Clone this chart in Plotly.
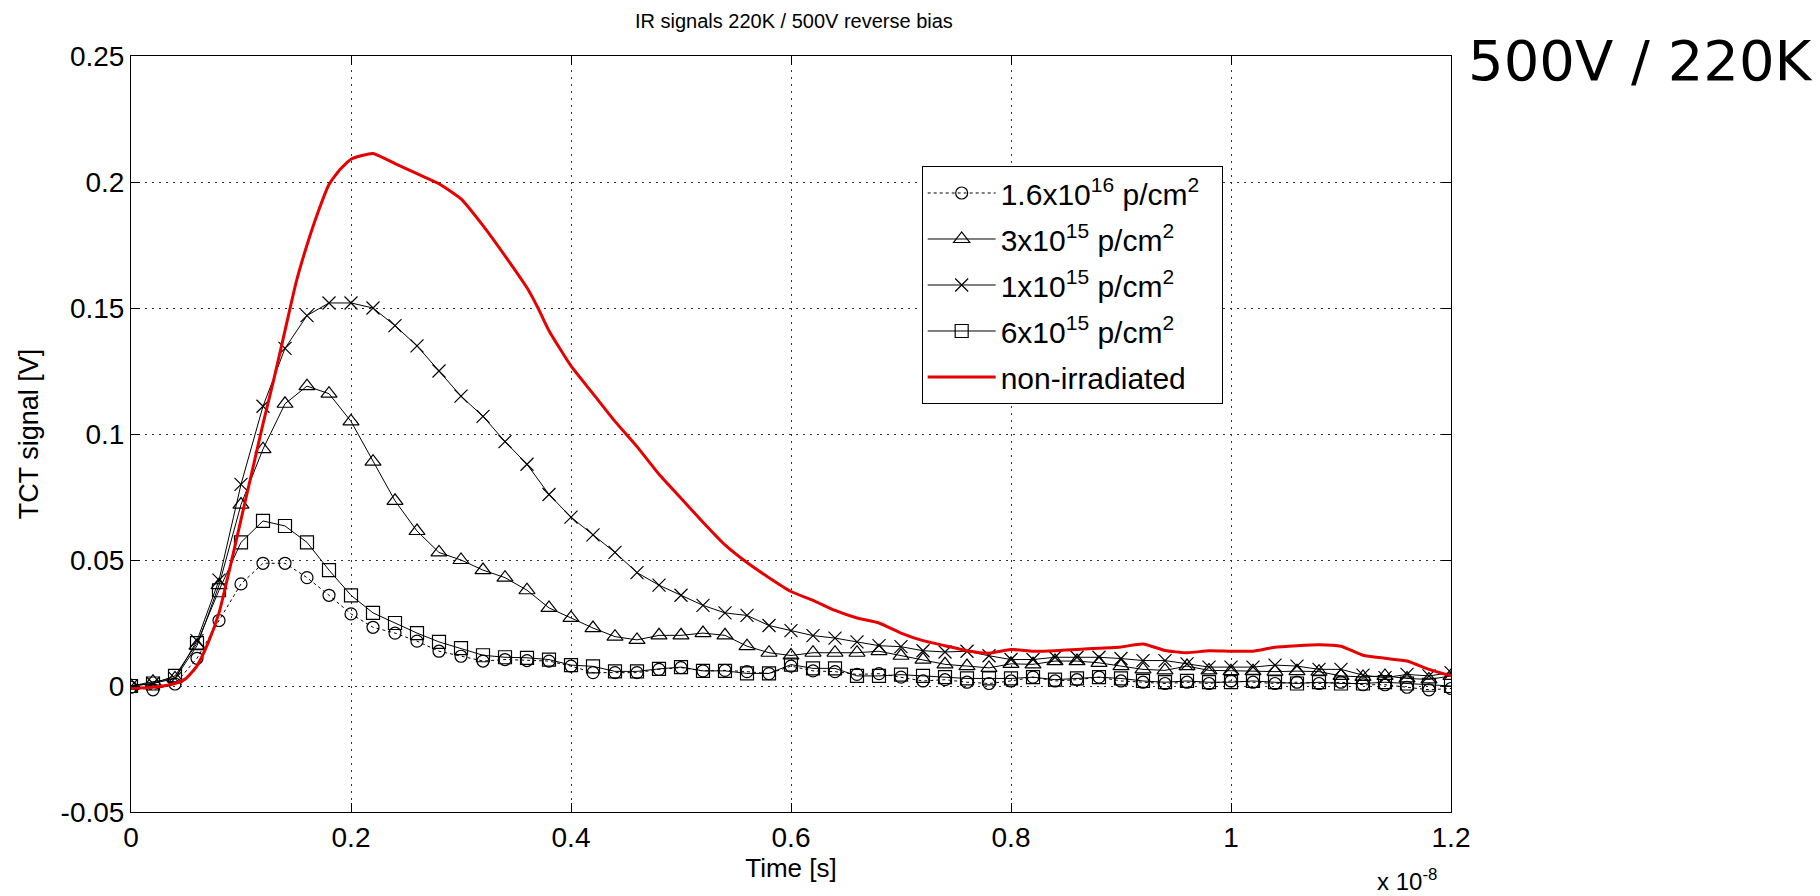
import plotly.graph_objects as go

# Sampling grid of the marked series, in units of 1e-8 s
TIME = [0.00, 0.02, 0.04, 0.06, 0.08, 0.10, 0.12, 0.14, 0.16, 0.18,
        0.20, 0.22, 0.24, 0.26, 0.28, 0.30, 0.32, 0.34, 0.36, 0.38,
        0.40, 0.42, 0.44, 0.46, 0.48, 0.50, 0.52, 0.54, 0.56, 0.58,
        0.60, 0.62, 0.64, 0.66, 0.68, 0.70, 0.72, 0.74, 0.76, 0.78,
        0.80, 0.82, 0.84, 0.86, 0.88, 0.90, 0.92, 0.94, 0.96, 0.98,
        1.00, 1.02, 1.04, 1.06, 1.08, 1.10, 1.12, 1.14, 1.16, 1.18,
        1.20]

# TCT signal [V] per fluence
SIG_16E16 = [-0.0005, -0.0015, 0.0008, 0.011, 0.026, 0.0405, 0.0487, 0.0487, 0.043, 0.036,
             0.0286, 0.0233, 0.021, 0.0178, 0.0138, 0.0118, 0.0099, 0.0105, 0.0101, 0.0099,
             0.0079, 0.0053, 0.0053, 0.0053, 0.0066, 0.0073, 0.006, 0.0062, 0.0057, 0.0049,
             0.0079, 0.006, 0.0057, 0.0046, 0.0049, 0.0035, 0.002, 0.0025, 0.0015, 0.001,
             0.002, 0.0035, 0.002, 0.0025, 0.0035, 0.002, 0.0015, 0.001, 0.0015, 0.001,
             0.002, 0.0015, 0.001, 0.0015, 0.001, 0.0015, 0.0005, 0.0005, -0.0005, -0.0015,
             -0.001]

SIG_3E15 = [0.0, 0.0017, 0.003, 0.016, 0.040, 0.072, 0.094, 0.112, 0.119, 0.116,
            0.105, 0.089, 0.0735, 0.0615, 0.053, 0.050, 0.046, 0.043, 0.038, 0.031,
            0.027, 0.023, 0.0196, 0.0183, 0.0201, 0.0201, 0.021, 0.0201, 0.0158, 0.0132,
            0.0121, 0.0132, 0.0132, 0.0132, 0.0138, 0.012, 0.0105, 0.0086, 0.0079, 0.0072,
            0.0088, 0.0086, 0.0099, 0.0099, 0.0092, 0.0079, 0.0066, 0.0062, 0.0079, 0.0062,
            0.0059, 0.0059, 0.0057, 0.0059, 0.0057, 0.004, 0.0036, 0.004, 0.003, 0.0026,
            0.004]

SIG_1E15 = [0.0, 0.001, 0.003, 0.018, 0.042, 0.080, 0.111, 0.134, 0.147, 0.152,
            0.152, 0.150, 0.143, 0.135, 0.125, 0.115, 0.107, 0.097, 0.088, 0.076,
            0.067, 0.060, 0.053, 0.045, 0.040, 0.036, 0.032, 0.029, 0.028, 0.024,
            0.022, 0.020, 0.019, 0.0175, 0.016, 0.0156, 0.014, 0.0135, 0.0138, 0.012,
            0.0105, 0.0105, 0.0114, 0.0114, 0.0114, 0.0109, 0.0101, 0.0101, 0.0088, 0.0075,
            0.0075, 0.0075, 0.0083, 0.0079, 0.0066, 0.0066, 0.0043, 0.0033, 0.0046, 0.004,
            0.0053]

SIG_6E15 = [0.0, 0.001, 0.004, 0.017, 0.038, 0.057, 0.0655, 0.0635, 0.057, 0.046,
            0.036, 0.029, 0.025, 0.021, 0.0175, 0.015, 0.0122, 0.0114, 0.0112, 0.0105,
            0.0083, 0.0078, 0.0058, 0.0058, 0.0068, 0.0075, 0.006, 0.006, 0.005, 0.005,
            0.0085, 0.007, 0.007, 0.004, 0.004, 0.0045, 0.004, 0.0035, 0.003, 0.003,
            0.003, 0.0035, 0.0025, 0.003, 0.0035, 0.003, 0.002, 0.0015, 0.002, 0.0015,
            0.0015, 0.002, 0.0015, 0.001, 0.0015, 0.001, 0.001, 0.0015, 0.001, 0.0005,
            0.0]

# Non-irradiated reference pulse (denser sampling on the rising edge)
TIME_REF = [0.00, 0.02, 0.04, 0.05, 0.06, 0.07, 0.08, 0.09, 0.10, 0.11,
            0.12, 0.13, 0.14, 0.15, 0.16, 0.17, 0.18, 0.19, 0.20, 0.21,
            0.22, 0.24, 0.26, 0.28, 0.30, 0.32, 0.34, 0.36, 0.37, 0.38,
            0.40, 0.42, 0.44, 0.46, 0.48, 0.50, 0.52, 0.54, 0.56, 0.58,
            0.60, 0.62, 0.64, 0.66, 0.68, 0.70, 0.72, 0.74, 0.76, 0.78,
            0.80, 0.82, 0.84, 0.86, 0.88, 0.90, 0.92, 0.94, 0.96, 0.98,
            1.00, 1.02, 1.04, 1.06, 1.08, 1.10, 1.12, 1.14, 1.16, 1.18,
            1.20]
SIG_REF = [-0.001, -0.0005, 0.001, 0.003, 0.008, 0.017, 0.029, 0.047, 0.066, 0.085,
           0.104, 0.122, 0.141, 0.160, 0.175, 0.188, 0.199, 0.205, 0.209, 0.2105,
           0.2113, 0.2073, 0.2033, 0.1993, 0.1933, 0.1827, 0.1707, 0.158, 0.150, 0.141,
           0.127, 0.116, 0.105, 0.095, 0.084, 0.0745, 0.065, 0.056, 0.049, 0.043,
           0.0375, 0.034, 0.030, 0.027, 0.025, 0.021, 0.018, 0.016, 0.014, 0.013,
           0.0145, 0.0138, 0.014, 0.0145, 0.015, 0.0155, 0.0167, 0.0141, 0.0132, 0.014,
           0.0138, 0.0138, 0.0154, 0.016, 0.0164, 0.0158, 0.0122, 0.011, 0.0099, 0.0066,
           0.004]

X_TICKS = [0, 0.2, 0.4, 0.6, 0.8, 1.0, 1.2]
X_TICK_TEXT = ["0", "0.2", "0.4", "0.6", "0.8", "1", "1.2"]
Y_TICKS = [-0.05, 0, 0.05, 0.1, 0.15, 0.2, 0.25]
Y_TICK_TEXT = ["-0.05", "0", "0.05", "0.1", "0.15", "0.2", "0.25"]

FONT = "Liberation Sans, Arial, sans-serif"
BLACK = "#000000"

fig = go.Figure()

fig.add_trace(go.Scatter(
    x=TIME, y=SIG_16E16, mode="lines+markers", legendgroup="a",
    name="1.6x10<sup>16</sup> p/cm<sup>2</sup>&nbsp;&nbsp;",
    line=dict(color=BLACK, width=1, dash="dot"),
    marker=dict(symbol="circle-open", size=12, color=BLACK, line=dict(width=1.2, color=BLACK)),
))
fig.add_trace(go.Scatter(
    x=TIME, y=SIG_3E15, mode="lines+markers", legendgroup="b",
    name="3x10<sup>15</sup> p/cm<sup>2</sup>",
    line=dict(color=BLACK, width=1),
    marker=dict(symbol="triangle-up-open", size=14, color=BLACK, line=dict(width=1.2, color=BLACK)),
))
fig.add_trace(go.Scatter(
    x=TIME, y=SIG_1E15, mode="lines+markers", legendgroup="c",
    name="1x10<sup>15</sup> p/cm<sup>2</sup>",
    line=dict(color=BLACK, width=1),
    marker=dict(symbol="x-thin-open", size=13, color=BLACK, line=dict(width=1.2, color=BLACK)),
))
fig.add_trace(go.Scatter(
    x=TIME, y=SIG_6E15, mode="lines+markers", legendgroup="d",
    name="6x10<sup>15</sup> p/cm<sup>2</sup>",
    line=dict(color=BLACK, width=1),
    marker=dict(symbol="square-open", size=13, color=BLACK, line=dict(width=1.2, color=BLACK)),
))
fig.add_trace(go.Scatter(
    x=TIME_REF, y=SIG_REF, mode="lines", legendgroup="e",
    name="non-irradiated",
    line=dict(color="#e60000", width=3, shape="spline", smoothing=0.5),
))

axis_common = dict(
    showline=True, linecolor=BLACK, linewidth=1, mirror="ticks",
    ticks="inside", ticklen=9, tickcolor=BLACK, tickwidth=1,
    showgrid=True, gridcolor="#333333", gridwidth=1, griddash="2px,5px",
    zeroline=False, automargin=False,
    tickfont=dict(family=FONT, size=28, color=BLACK),
)

fig.update_xaxes(
    range=[0, 1.2], tickmode="array", tickvals=X_TICKS, ticktext=X_TICK_TEXT,
    title=dict(text="Time [s]", font=dict(family=FONT, size=26, color=BLACK), standoff=6),
    **axis_common,
)
fig.update_yaxes(
    range=[-0.05, 0.25], tickmode="array", tickvals=Y_TICKS, ticktext=Y_TICK_TEXT,
    title=dict(text="TCT signal [V]", font=dict(family=FONT, size=27, color=BLACK), standoff=14),
    **axis_common,
)

fig.update_layout(
    width=1820, height=896,
    margin=dict(l=131, r=369, t=56, b=84, pad=0),
    paper_bgcolor="white", plot_bgcolor="white",
    font=dict(family=FONT, color=BLACK),
    title=dict(text="IR signals 220K / 500V reverse bias",
               font=dict(family=FONT, size=20, color=BLACK),
               x=0.4362, xanchor="center", y=0.977, yanchor="middle"),
    showlegend=True,
    legend=dict(
        x=0.599, y=0.8545, xanchor="left", yanchor="top",
        bgcolor="white", bordercolor=BLACK, borderwidth=1,
        font=dict(family=FONT, size=30, color=BLACK),
        itemwidth=68, tracegroupgap=4,
    ),
    annotations=[
        dict(text="x 10<sup>-8</sup>", xref="paper", yref="paper",
             x=0.991, y=-0.09, xanchor="right", yanchor="middle",
             showarrow=False, font=dict(family=FONT, size=24, color=BLACK)),
        dict(text="500V / 220K", xref="paper", yref="paper",
             x=1.0114, y=0.9947, xanchor="left", yanchor="middle",
             showarrow=False, font=dict(family="DejaVu Sans", size=56, color=BLACK)),
    ],
)

fig.write_html("out.html")
